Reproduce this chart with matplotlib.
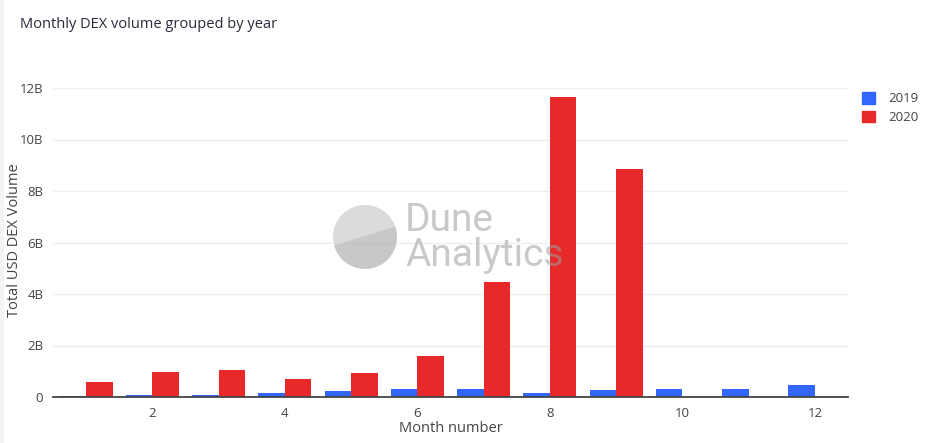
import matplotlib
matplotlib.use("Agg")
import matplotlib.pyplot as plt
import numpy as np
from matplotlib.patches import Patch, Circle, Polygon, Rectangle

plt.rcParams["font.family"] = ["Open Sans", "DejaVu Sans"]

MONTHS = np.arange(1, 13)
VOL_2019 = [0.04, 0.07, 0.09, 0.16, 0.23, 0.30, 0.32, 0.14, 0.26, 0.31, 0.30, 0.45]
VOL_2020 = [0.60, 0.97, 1.04, 0.69, 0.93, 1.59, 4.47, 11.65, 8.85, 0, 0, 0]
YEARS = ["2019", "2020"]
COLORS = ["#3366ff", "#e8292a"]
Y_TICKS = [0, 2, 4, 6, 8, 10, 12]
Y_LABELS = ["0", "2B", "4B", "6B", "8B", "10B", "12B"]

W, H = 928, 443
fig = plt.figure(figsize=(W / 100, H / 100), dpi=100)
fig.patch.set_facecolor("white")

# card edge on the left
fig.patches.append(Rectangle((0, 0), 4 / W, 1, transform=fig.transFigure,
                             color="#f3f4f6", lw=0, zorder=0))

# plot area in pixels
x0, x1, y_bot, y_top = 53, 848, 397, 70
ax = fig.add_axes([x0 / W, 1 - y_bot / H, (x1 - x0) / W, (y_bot - y_top) / H])

bw = 0.4
ax.bar(MONTHS - bw / 2, VOL_2019, width=bw, color=COLORS[0], zorder=2)
ax.bar(MONTHS + bw / 2, [v if v > 0 else np.nan for v in VOL_2020], width=bw,
       color=COLORS[1], zorder=2)

ax.set_xlim(0.5, 12.5)
ax.set_ylim(0, (y_bot - y_top) / 25.75)
ax.set_xticks([2, 4, 6, 8, 10, 12])
ax.set_yticks(Y_TICKS)
ax.set_yticklabels(Y_LABELS)
ax.tick_params(length=0, labelsize=9.5, colors="#444444", pad=7)
ax.grid(axis="y", color="#eeeeee", linewidth=1, zorder=0)
ax.set_axisbelow(True)
for s in ["top", "right", "left"]:
    ax.spines[s].set_visible(False)
ax.spines["bottom"].set_color("#444444")
ax.spines["bottom"].set_linewidth(1.3)
ax.spines["bottom"].set_zorder(3)

ax.set_xlabel("Month number", fontsize=10.5, color="#444444")
ax.xaxis.set_label_coords(0.5, -(428 - y_bot) / (y_bot - y_top), transform=ax.transAxes)
ax.xaxis.label.set_va("center")
ax.set_ylabel("Total USD DEX Volume", fontsize=10.5, color="#444444")
ax.yaxis.set_label_coords(-(x0 - 15) / (x1 - x0), (y_bot - 240) / (y_bot - y_top),
                          transform=ax.transAxes)
ax.yaxis.label.set_va("center")

fig.text(20 / W, 1 - 24 / H, "Monthly DEX volume grouped by year", fontsize=10.5,
         color="#2a2a3a", va="center", ha="left")

handles = [Patch(facecolor=c, edgecolor=c) for c in COLORS]
fig.legend(handles, YEARS, loc="upper left", bbox_to_anchor=(850 / W, 1 - 80 / H),
           frameon=False, fontsize=9.5, handlelength=1.0, handleheight=1.0,
           handletextpad=1.0, labelspacing=0.4, labelcolor="#444444")

# watermark
wm = fig.add_axes([0, 0, 1, 1], facecolor="none")
wm.set_xlim(0, W)
wm.set_ylim(H, 0)
wm.axis("off")
circ = Circle((365, 237), 32, color="#c4c4c4", alpha=0.6, lw=0)
wm.add_patch(circ)
low = Polygon([(320, 250), (410, 222), (410, 280), (320, 280)], closed=True,
              color="#9e9e9e", alpha=0.3, lw=0)
low.set_clip_path(circ)
wm.add_patch(low)
wm.text(405, 220, "Dune", fontsize=28, color="#9e9e9e", alpha=0.55, va="center",
        ha="left", family=["Roboto", "DejaVu Sans"])
wm.text(405, 256, "Analytics", fontsize=28, color="#9e9e9e", alpha=0.55, va="center",
        ha="left", family=["Roboto", "DejaVu Sans"])

fig.savefig("out.png", dpi=100)
